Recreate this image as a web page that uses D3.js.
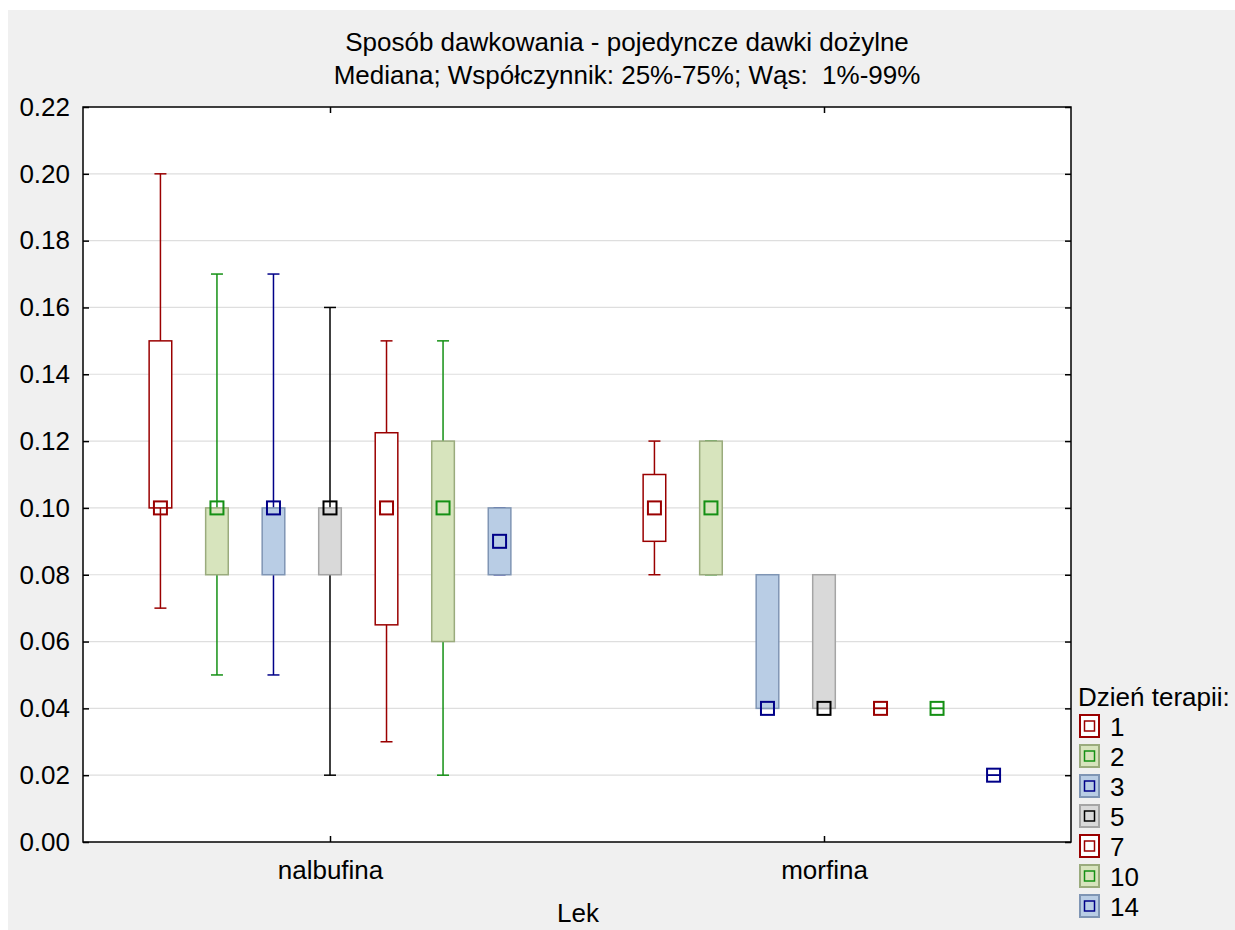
<!DOCTYPE html>
<html>
<head>
<meta charset="utf-8">
<script src="https://cdn.jsdelivr.net/npm/d3@7"></script>
<style>
  body { margin: 0; background: #fff; }
  svg { display: block; font-family: Arial, "Liberation Sans", sans-serif; }
</style>
</head>
<body>
<svg id="chart" width="1235" height="930"></svg>
<script>
'use strict';

// categories and groups
const categories = ["nalbufina", "morfina"];
const days = ["1", "2", "3", "5", "7", "10", "14"];
const yTicks = [0, 0.02, 0.04, 0.06, 0.08, 0.10, 0.12, 0.14, 0.16, 0.18, 0.20, 0.22];

// one row per category, one value per day
const median = [[0.10, 0.10, 0.10, 0.10, 0.10, 0.10, 0.09],
                [0.10, 0.10, 0.04, 0.04, 0.04, 0.04, 0.02]];
const q25 = [[0.10, 0.08, 0.08, 0.08, 0.065, 0.06, 0.08],
             [0.09, 0.08, 0.04, 0.04, 0.04, 0.04, 0.02]];
const q75 = [[0.15, 0.10, 0.10, 0.10, 0.1225, 0.12, 0.10],
             [0.11, 0.12, 0.08, 0.08, 0.04, 0.04, 0.02]];
const p01 = [[0.07, 0.05, 0.05, 0.02, 0.03, 0.02, 0.08],
             [0.08, 0.08, 0.04, 0.04, 0.04, 0.04, 0.02]];
const p99 = [[0.20, 0.17, 0.17, 0.16, 0.15, 0.15, 0.10],
             [0.12, 0.12, 0.08, 0.08, 0.04, 0.04, 0.02]];

// styles by day
const styles = {
    "1":  { fill: "#ffffff", box: "#9a0000", line: "#9a0000" },
    "2":  { fill: "#d7e4bd", box: "#9aab7d", line: "#149014" },
    "3":  { fill: "#b9cde5", box: "#7f95b4", line: "#000088" },
    "5":  { fill: "#d9d9d9", box: "#a5a5a5", line: "#000000" },
    "7":  { fill: "#ffffff", box: "#9a0000", line: "#9a0000" },
    "10": { fill: "#d7e4bd", box: "#9aab7d", line: "#149014" },
    "14": { fill: "#b9cde5", box: "#7f95b4", line: "#000088" }
};

const W = 1235, H = 930;
const margin = { left: 83, top: 107, right: 1071, bottom: 842 };
const fontSize = 26;

const svg = d3.select("#chart");

// page background
svg.append("rect").attr("width", W).attr("height", H).attr("fill", "#ffffff");
svg.append("rect").attr("x", 8).attr("y", 10).attr("width", W - 8).attr("height", H - 10)
    .attr("fill", "#f0f0f0");

const x0 = d3.scaleBand().domain(categories).range([margin.left, margin.right]);
const x1 = d3.scaleBand().domain(days).range([0, x0.bandwidth()])
    .paddingInner(0.6).paddingOuter(1.17);
const y = d3.scaleLinear().domain([0, 0.22]).range([margin.bottom, margin.top]);

// plot area
svg.append("rect")
    .attr("x", margin.left).attr("y", margin.top)
    .attr("width", margin.right - margin.left).attr("height", margin.bottom - margin.top)
    .attr("fill", "#ffffff");

// grid
svg.append("g").selectAll("line")
    .data(yTicks.filter(d => d > 0 && d < 0.22))
    .join("line")
    .attr("x1", margin.left).attr("x2", margin.right)
    .attr("y1", d => y(d)).attr("y2", d => y(d))
    .attr("stroke", "#dedede").attr("stroke-width", 1.2);

// boxes
const rows = [];
categories.forEach((c, ci) => {
    days.forEach((d, di) => {
        rows.push({
            cat: c, day: d,
            med: median[ci][di], lo: q25[ci][di], hi: q75[ci][di],
            wlo: p01[ci][di], whi: p99[ci][di]
        });
    });
});

const bw = x1.bandwidth();
const cap = 12;
const boxes = svg.append("g").selectAll("g")
    .data(rows)
    .join("g")
    .attr("transform", d => `translate(${x0(d.cat) + x1(d.day) + bw / 2},0)`);

boxes.append("line")
    .attr("x1", 0).attr("x2", 0)
    .attr("y1", d => y(d.whi)).attr("y2", d => y(d.wlo))
    .attr("stroke", d => styles[d.day].line).attr("stroke-width", 1.5);
boxes.append("line")
    .attr("x1", -cap / 2).attr("x2", cap / 2)
    .attr("y1", d => y(d.whi)).attr("y2", d => y(d.whi))
    .attr("stroke", d => styles[d.day].line).attr("stroke-width", 1.5);
boxes.append("line")
    .attr("x1", -cap / 2).attr("x2", cap / 2)
    .attr("y1", d => y(d.wlo)).attr("y2", d => y(d.wlo))
    .attr("stroke", d => styles[d.day].line).attr("stroke-width", 1.5);

boxes.append("rect")
    .attr("x", -bw / 2).attr("width", bw)
    .attr("y", d => y(d.hi)).attr("height", d => y(d.lo) - y(d.hi))
    .attr("fill", d => styles[d.day].fill)
    .attr("stroke", d => styles[d.day].box).attr("stroke-width", 1.5);

boxes.append("rect")
    .attr("x", -6.5).attr("width", 13)
    .attr("y", d => y(d.med) - 6.5).attr("height", 13)
    .attr("fill", "none")
    .attr("stroke", d => styles[d.day].line).attr("stroke-width", 2);

// axes frame
const frame = svg.append("g").attr("font-size", fontSize).attr("fill", "#000");
frame.append("rect")
    .attr("x", margin.left).attr("y", margin.top)
    .attr("width", margin.right - margin.left).attr("height", margin.bottom - margin.top)
    .attr("fill", "none").attr("stroke", "#000").attr("stroke-width", 1.5);

const leftAxis = d3.axisLeft(y).tickValues(yTicks).tickFormat(d3.format(".2f"))
    .tickSizeInner(-6).tickSizeOuter(0).tickPadding(13);
frame.append("g").attr("transform", `translate(${margin.left},0)`).call(leftAxis)
    .call(g => g.select(".domain").remove())
    .call(g => g.selectAll("text").attr("font-size", fontSize).attr("font-family", null).attr("fill", "#000"))
    .call(g => g.selectAll("line").attr("stroke-width", 1.5));

const rightAxis = d3.axisRight(y).tickValues(yTicks).tickFormat("").tickSizeInner(-6).tickSizeOuter(0);
frame.append("g").attr("transform", `translate(${margin.right},0)`).call(rightAxis)
    .call(g => g.select(".domain").remove())
    .call(g => g.selectAll("line").attr("stroke-width", 1.5));

const xCenter = d3.scalePoint().domain(categories).range([margin.left, margin.right]).padding(0.5);
const bottomAxis = d3.axisBottom(xCenter).tickSizeInner(-6).tickSizeOuter(0).tickPadding(19);
frame.append("g").attr("transform", `translate(0,${margin.bottom})`).call(bottomAxis)
    .call(g => g.select(".domain").remove())
    .call(g => g.selectAll("text").attr("font-size", fontSize).attr("font-family", null).attr("fill", "#000"))
    .call(g => g.selectAll("line").attr("stroke-width", 1.5));

const topAxis = d3.axisTop(xCenter).tickFormat("").tickSizeInner(-6).tickSizeOuter(0);
frame.append("g").attr("transform", `translate(0,${margin.top})`).call(topAxis)
    .call(g => g.select(".domain").remove())
    .call(g => g.selectAll("line").attr("stroke-width", 1.5));

// titles
svg.append("text").attr("x", 627).attr("y", 51).attr("text-anchor", "middle")
    .attr("font-size", fontSize).text("Sposób dawkowania - pojedyncze dawki dożylne");
svg.append("text").attr("x", 627).attr("y", 84).attr("text-anchor", "middle")
    .attr("font-size", fontSize).attr("xml:space", "preserve")
    .text("Mediana; Współczynnik: 25%-75%; Wąs:  1%-99%");
svg.append("text").attr("x", 578).attr("y", 922).attr("text-anchor", "middle")
    .attr("font-size", fontSize).text("Lek");

// legend
const legend = svg.append("g").attr("transform", "translate(1078,0)");
legend.append("text").attr("x", 0).attr("y", 706).attr("font-size", fontSize).text("Dzień terapii:");
const items = legend.selectAll("g.item")
    .data(days)
    .join("g")
    .attr("class", "item")
    .attr("transform", (d, i) => `translate(0,${726 + i * 30})`);
items.append("rect")
    .attr("x", 2).attr("y", -11).attr("width", 19).attr("height", 22)
    .attr("fill", d => styles[d].fill)
    .attr("stroke", d => styles[d].box).attr("stroke-width", 2);
items.append("rect")
    .attr("x", 6.5).attr("y", -5).attr("width", 10).attr("height", 10)
    .attr("fill", "none")
    .attr("stroke", d => styles[d].line).attr("stroke-width", 1.5);
items.append("text")
    .attr("x", 32).attr("y", 10).attr("font-size", fontSize).text(d => d);
</script>
</body>
</html>
